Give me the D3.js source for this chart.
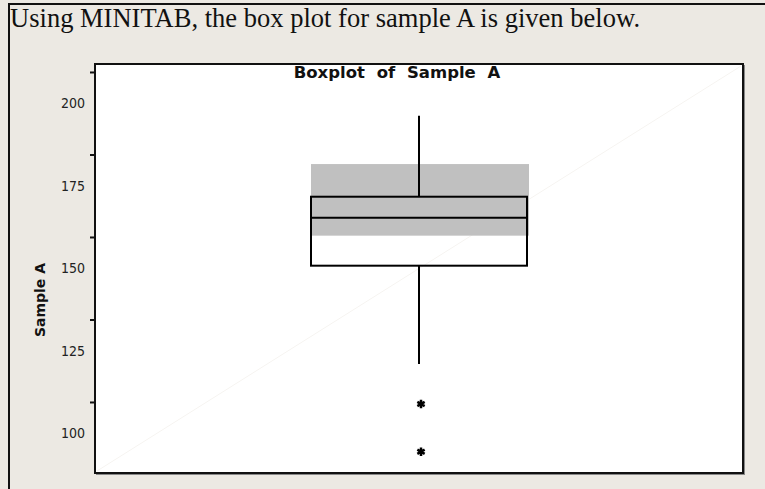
<!DOCTYPE html>
<html>
<head>
<meta charset="utf-8">
<script src="https://cdn.jsdelivr.net/npm/d3@7"></script>
<style>
  body { margin: 0; background: #ece9e3; }
  svg { display: block; }
</style>
</head>
<body>
<svg id="drawing_region"></svg>
<script>
// values
const categories = ["Sample A"];
const yTickLabels = [100, 125, 150, 175, 200];
const yTickMarks = [109.4, 134.4, 159.4, 184.4, 209.4];
const boxLow = [120.9];      // lower whisker end
const boxQ1 = [150.7];
const boxMedian = [165.2];
const boxQ3 = [171.6];
const boxHigh = [196.1];     // upper whisker end
const ciLow = [159.8];       // median confidence interval
const ciHigh = [181.5];
const outliers = [108.8, 94.3];

const config = {
    width: 765,
    height: 489,
    frame: {left: 95, top: 64, right: 743, bottom: 473}
};

const svg = d3.select('#drawing_region')
    .attr('width', config.width)
    .attr('height', config.height);

// page borders
svg.append('line')
    .attr('x1', 8).attr('x2', config.width).attr('y1', 4).attr('y2', 4)
    .attr('stroke', '#111').attr('stroke-width', 2);
svg.append('line')
    .attr('x1', 9).attr('x2', 9).attr('y1', 3).attr('y2', config.height)
    .attr('stroke', '#111').attr('stroke-width', 2);

svg.append('text')
    .attr('x', 10).attr('y', 27)
    .attr('font-family', '"Liberation Serif", "Times New Roman", serif')
    .attr('font-size', 26.5)
    .attr('textLength', 630)
    .attr('fill', '#111')
    .text('Using MINITAB, the box plot for sample A is given below.');

const f = config.frame;

const yScale = d3.scaleLinear()
    .domain([100 - (f.bottom - 433) / 3.3, 200 + (103 - f.top) / 3.3])
    .range([f.bottom, f.top]);

const xScale = d3.scaleBand()
    .domain(categories)
    .range([f.left, f.right])
    .paddingOuter(1.0);

// shadow of the frame
svg.append('line')
    .attr('x1', f.right + 1.5).attr('x2', f.right + 1.5)
    .attr('y1', f.top + 1).attr('y2', f.bottom + 2)
    .attr('stroke', '#888').attr('stroke-width', 1);
svg.append('line')
    .attr('x1', f.left + 1).attr('x2', f.right + 2)
    .attr('y1', f.bottom + 1.5).attr('y2', f.bottom + 1.5)
    .attr('stroke', '#888').attr('stroke-width', 1);

svg.append('rect')
    .attr('x', f.left).attr('y', f.top)
    .attr('width', f.right - f.left).attr('height', f.bottom - f.top)
    .attr('fill', 'white')
    .attr('stroke', '#111').attr('stroke-width', 2);

// faint diagonal artifact
svg.append('line')
    .attr('x1', f.left + 2).attr('y1', f.bottom - 2)
    .attr('x2', f.right - 2).attr('y2', f.top + 2)
    .attr('stroke', '#f6f4f1').attr('stroke-width', 1);

svg.append('text')
    .attr('x', 397).attr('y', 78)
    .attr('text-anchor', 'middle')
    .attr('font-family', '"DejaVu Sans", Verdana, sans-serif')
    .attr('font-weight', 'bold')
    .attr('font-size', 16.5)
    .attr('word-spacing', 6)
    .attr('fill', '#111')
    .text('Boxplot of Sample A');

// y axis: tick marks
const tickAxis = d3.axisLeft(yScale)
    .tickValues(yTickMarks)
    .tickSize(5)
    .tickFormat('');
svg.append('g')
    .attr('transform', `translate(${f.left}, 0)`)
    .call(tickAxis)
    .call(g => g.select('.domain').remove())
    .call(g => g.selectAll('line').attr('stroke', '#111').attr('stroke-width', 2));

// y axis: labels
const labelAxis = d3.axisLeft(yScale)
    .tickValues(yTickLabels)
    .tickSize(0)
    .tickPadding(10);
svg.append('g')
    .attr('transform', `translate(${f.left}, 0)`)
    .call(labelAxis)
    .call(g => g.select('.domain').remove())
    .call(g => g.selectAll('text')
        .style('font-family', '"DejaVu Sans Condensed", "DejaVu Sans", sans-serif')
        .style('font-size', '14.5px')
        .attr('textLength', 24)
        .attr('lengthAdjust', 'spacingAndGlyphs')
        .attr('fill', '#222'));

svg.append('text')
    .attr('transform', `translate(45, 300) rotate(-90)`)
    .attr('text-anchor', 'middle')
    .attr('font-family', '"DejaVu Sans", sans-serif')
    .attr('font-weight', 'bold')
    .attr('font-size', 14)
    .attr('textLength', 74)
    .attr('fill', '#111')
    .text('Sample A');

const plot = svg.append('g');

categories.forEach((c, i) => {
    const x0 = xScale(c);
    const bw = xScale.bandwidth();
    const cx = x0 + bw / 2;

    // confidence interval for the median
    plot.append('rect')
        .attr('x', x0).attr('y', yScale(ciHigh[i]))
        .attr('width', bw + 2)
        .attr('height', yScale(ciLow[i]) - yScale(ciHigh[i]))
        .attr('fill', '#c0c0c0');

    // whiskers
    plot.append('line')
        .attr('x1', cx).attr('x2', cx)
        .attr('y1', yScale(boxHigh[i])).attr('y2', yScale(boxQ3[i]))
        .attr('stroke', '#000').attr('stroke-width', 2);
    plot.append('line')
        .attr('x1', cx).attr('x2', cx)
        .attr('y1', yScale(boxQ1[i])).attr('y2', yScale(boxLow[i]))
        .attr('stroke', '#000').attr('stroke-width', 2);

    // box
    plot.append('rect')
        .attr('x', x0).attr('y', yScale(boxQ3[i]))
        .attr('width', bw)
        .attr('height', yScale(boxQ1[i]) - yScale(boxQ3[i]))
        .attr('fill', 'none')
        .attr('stroke', '#000').attr('stroke-width', 2);

    plot.append('line')
        .attr('x1', x0).attr('x2', x0 + bw)
        .attr('y1', yScale(boxMedian[i])).attr('y2', yScale(boxMedian[i]))
        .attr('stroke', '#000').attr('stroke-width', 2);

    // outliers
    plot.selectAll('.outlier')
        .data(outliers)
        .join('path')
        .attr('class', 'outlier')
        .attr('transform', d => `translate(${cx + 2}, ${yScale(d)})`)
        .attr('d', d3.symbol(d3.symbolAsterisk, 50))
        .attr('fill', 'none')
        .attr('stroke', '#000')
        .attr('stroke-width', 2.5);
});
</script>
</body>
</html>
